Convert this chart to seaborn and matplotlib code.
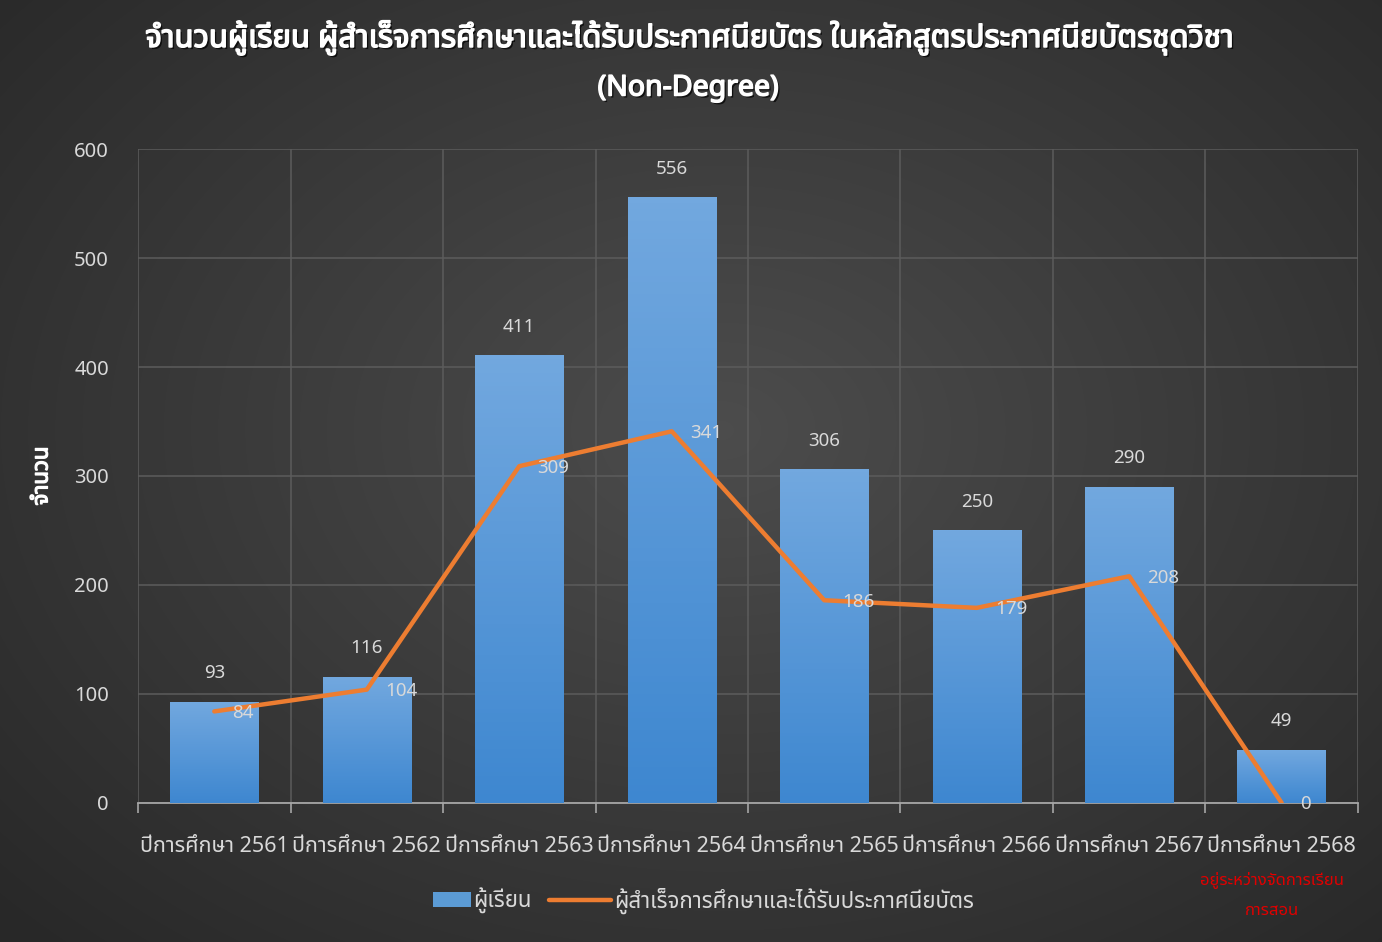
import numpy as np
import pandas as pd
import matplotlib
matplotlib.use('Agg')
import matplotlib.pyplot as plt
import matplotlib.patheffects as pe
from matplotlib import font_manager, ft2font
from matplotlib.legend_handler import HandlerPatch
from matplotlib.patches import Rectangle
import seaborn as sns

years = ['ปีการศึกษา 2561', 'ปีการศึกษา 2562', 'ปีการศึกษา 2563', 'ปีการศึกษา 2564',
         'ปีการศึกษา 2565', 'ปีการศึกษา 2566', 'ปีการศึกษา 2567', 'ปีการศึกษา 2568']
students = [93, 116, 411, 556, 306, 250, 290, 49]
graduates = [84, 104, 309, 341, 186, 179, 208, 0]
yticks = [0, 100, 200, 300, 400, 500, 600]

title1 = 'จำนวนผู้เรียน ผู้สำเร็จการศึกษาและได้รับประกาศนียบัตร ในหลักสูตรประกาศนียบัตรชุดวิชา'
title2 = '(Non-Degree)'
ylabel = 'จำนวน'
lab_students = 'ผู้เรียน'
lab_grads = 'ผู้สำเร็จการศึกษาและได้รับประกาศนียบัตร'
note = ['อยู่ระหว่างจัดการเรียน', 'การสอน']


# find a font with thai glyphs
def thai_family():
    names = []
    for f in font_manager.fontManager.ttflist:
        try:
            cmap = ft2font.FT2Font(f.fname).get_charmap()
        except Exception:
            continue
        if 0x0E08 in cmap:
            names.append(f.name)
    for pref in ['Noto Sans Thai', 'Noto Sans Thai UI', 'Noto Sans', 'Tahoma', 'Loma']:
        if pref in names:
            return pref
    return names[0] if names else 'DejaVu Sans'


# narrower box for the bar entry in the legend
def small_box(legend, orig_handle, xdescent, ydescent, width, height, fontsize):
    return Rectangle((xdescent + width * 0.4, ydescent), width * 0.6, height)


sns.set_theme(style='dark')
thai = thai_family()
plt.rcParams['font.family'] = [thai, 'DejaVu Sans']

txt = '#d9d9d9'
grid = '#5c5c5c'

fig = plt.figure(figsize=(13.82, 9.42), dpi=100)

# radial dark background
bg = fig.add_axes([0, 0, 1, 1], zorder=-10)
yy, xx = np.mgrid[0:942, 0:1382]
r = np.sqrt(((xx - 720) / 900.0) ** 2 + ((yy - 430) / 650.0) ** 2)
shade = np.clip(0.30 - 0.13 * r, 0.16, 0.30)
bg.imshow(np.dstack([shade, shade, shade]), aspect='auto', extent=[0, 1, 0, 1])
bg.axis('off')

ax = fig.add_axes([0.0999, 0.1476, 0.8827, 0.6942])
ax.set_facecolor('none')

df = pd.DataFrame({'year': years, 'students': students, 'graduates': graduates})
sns.barplot(data=df, x='year', y='students', color='#5b9bd5', width=0.58,
            label=lab_students, ax=ax, zorder=2, linewidth=0, edgecolor='none')
sns.lineplot(data=df, x='year', y='graduates', color='#ed7d31', linewidth=3.2,
             label=lab_grads, ax=ax, zorder=4, sort=False)

# vertical gradient on each bar
grad = np.linspace(0, 1, 100).reshape(-1, 1)
top = np.array([114, 168, 223]) / 255
bot = np.array([62, 135, 208]) / 255
gimg = (top[None, None, :] * (1 - grad[..., None]) + bot[None, None, :] * grad[..., None])
for p in ax.patches:
    x0, y0 = p.get_x(), p.get_y()
    w, h = p.get_width(), p.get_height()
    im = ax.imshow(gimg, aspect='auto', extent=[x0, x0 + w, y0, y0 + h], zorder=3)
    im.set_clip_path(p)

ax.set_xlim(-0.5, len(years) - 0.5)
ax.set_ylim(0, 600)
ax.set_yticks(yticks)
ax.set_xticks(range(len(years)))
ax.set_xticklabels(years)
ax.set_xticks(np.arange(-0.5, len(years), 1.0), minor=True)
ax.tick_params(axis='x', which='major', length=0, labelsize=15.5, colors=txt, pad=24)
ax.tick_params(axis='x', which='minor', length=7, width=1.2, color='#a6a6a6', bottom=True)
ax.tick_params(axis='y', length=0, labelsize=14.5, colors=txt, pad=21)
ax.grid(False)
ax.grid(axis='y', which='major', color=grid, linewidth=1.1, zorder=0)
ax.grid(axis='x', which='minor', color=grid, linewidth=1.1, zorder=0)
ax.set_axisbelow(True)
for s in ['top', 'right', 'left']:
    ax.spines[s].set_visible(False)
ax.spines['bottom'].set_color('#a6a6a6')
ax.spines['bottom'].set_linewidth(1.3)
ax.set_xlabel('')
ax.set_ylabel('')

for i, v in enumerate(students):
    ax.annotate(str(v), (i, v), xytext=(0, 14), textcoords='offset points',
                ha='center', va='bottom', color=txt, fontsize=13.5)
for i, v in enumerate(graduates):
    ax.annotate(str(v), (i, v), xytext=(13, -1), textcoords='offset points',
                ha='left', va='center', color=txt, fontsize=13.5, zorder=5)

ax.get_legend().remove()
h, l = ax.get_legend_handles_labels()
line_handle = h[l.index(lab_grads)]
box = Rectangle((0, 0), 1, 1, facecolor='#5b9bd5', edgecolor='none')
leg = fig.legend([box, line_handle], [lab_students, lab_grads], loc='center',
                 bbox_to_anchor=(0.5, 0.044), ncol=2, frameon=False,
                 fontsize=16, labelcolor=txt, handlelength=2.8, handleheight=0.7,
                 handletextpad=0.1, columnspacing=0.8,
                 handler_map={Rectangle: HandlerPatch(patch_func=small_box)})

# faux bold + shadow for the title
bold = [pe.withSimplePatchShadow(offset=(1.5, -1.5), shadow_rgbFace='black', alpha=0.7),
        pe.withStroke(linewidth=1.1, foreground='white')]
fig.text(0.498, 0.9597, title1, ha='center', va='center', color='white',
         fontsize=22.4, fontweight='bold', path_effects=bold)
fig.text(0.498, 0.9066, title2, ha='center', va='center', color='white',
         fontsize=20.5, fontweight='bold', path_effects=bold)
fig.text(0.0304, 0.4947, ylabel, rotation=90, ha='center', va='center', color='white',
         fontsize=16, fontweight='bold',
         path_effects=[pe.withStroke(linewidth=0.9, foreground='white')])
fig.text(0.9204, 0.0658, note[0], ha='center', va='center', color='#e00000', fontsize=12)
fig.text(0.9204, 0.0329, note[1], ha='center', va='center', color='#e00000', fontsize=12)

fig.savefig('out.png', dpi=100)
